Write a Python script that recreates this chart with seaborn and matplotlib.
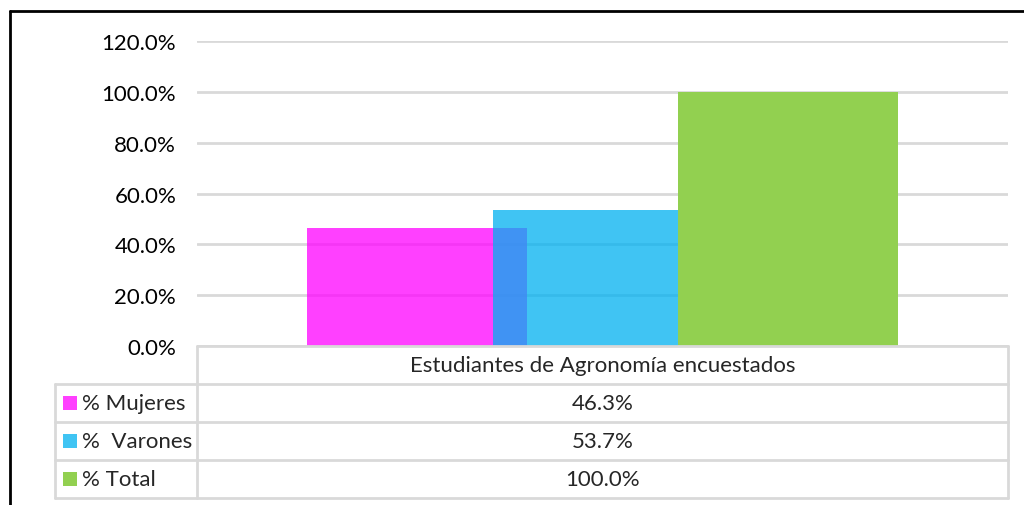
import numpy as np
import pandas as pd
import seaborn as sns
import matplotlib.pyplot as plt
from matplotlib.lines import Line2D
from matplotlib.patches import Rectangle

# data
category = "Estudiantes de Agronomía encuestados"
series = ["% Mujeres", "%  Varones", "% Total"]
values = [0.463, 0.537, 1.000]
value_labels = ["46.3%", "53.7%", "100.0%"]
colors = ["#FF00FF", "#00B0F0", "#92D050"]
alphas = [0.75, 0.75, 1.0]
yticks = [0.0, 0.2, 0.4, 0.6, 0.8, 1.0, 1.2]

df = pd.DataFrame({"cat": [category] * 3, "serie": series, "valor": values})

sns.set_theme(style="white")
plt.rcParams['font.family'] = ['Lato', 'DejaVu Sans']
FS = 16

W, H = 1024, 506
fig = plt.figure(figsize=(W / 100, H / 100), dpi=100)

# plot area in pixels
L, R, T, B = 197, 1008, 42, 347
ax = fig.add_axes([L / W, 1 - B / H, (R - L) / W, (B - T) / H])

sns.barplot(data=df, x="cat", y="valor", hue="serie", palette=colors,
            width=0.687, dodge=True, legend=False, ax=ax, zorder=2,
            linewidth=0, saturation=1)

# Excel style overlap: widen each bar around its centre
bar_w = 0.271
for p, a in zip(ax.patches, alphas):
    c = p.get_x() + p.get_width() / 2
    p.set_width(bar_w)
    p.set_x(c - bar_w / 2)
    p.set_alpha(a)

ax.set_xlim(-0.5, 0.5)
ax.set_ylim(0, 1.2)
ax.set_yticks(yticks)
ax.set_yticklabels([f"{t * 100:.1f}%" for t in yticks], fontsize=FS, color="#000000")
ax.tick_params(axis="y", length=0, pad=15)
ax.set_xticks([])
ax.set_xlabel("")
ax.set_ylabel("")
ax.yaxis.grid(True, color="#D9D9D9", linewidth=2, zorder=0)
ax.set_axisbelow(True)
for s in ax.spines.values():
    s.set_visible(False)

# data table below the chart
grid_c = "#D9D9D9"
lw = 2
rows = [347, 385, 423, 461, 499]
left_col = 55


def px(x, y):
    return x / W, 1 - y / H


def hline(x0, x1, y):
    (a, b), (c, d) = px(x0, y), px(x1, y)
    fig.add_artist(Line2D([a, c], [b, d], color=grid_c, lw=lw))


def vline(x, y0, y1):
    (a, b), (c, d) = px(x, y0), px(x, y1)
    fig.add_artist(Line2D([a, c], [b, d], color=grid_c, lw=lw))


hline(L, R, rows[0])
for y in rows[1:]:
    hline(left_col, R, y)
vline(L, rows[0], rows[-1])
vline(R, rows[0], rows[-1])
vline(left_col, rows[1], rows[-1])

mid = (L + R) / 2
hx, hy = px(mid, (rows[0] + rows[1]) / 2)
fig.text(hx, hy, category, ha="center", va="center", fontsize=FS)

for i, (name, lab, col, a) in enumerate(zip(series, value_labels, colors, alphas)):
    yc = (rows[i + 1] + rows[i + 2]) / 2
    tx, ty = px(mid, yc)
    fig.text(tx, ty, lab, ha="center", va="center", fontsize=FS)
    sx, sy = px(63, yc + 7)
    fig.add_artist(Rectangle((sx, sy), 14 / W, 14 / H, transform=fig.transFigure,
                             facecolor=col, alpha=a, edgecolor="none"))
    nx, ny = px(82, yc)
    fig.text(nx, ny, name, ha="left", va="center", fontsize=FS)

# outer chart frame (clipped by the image edge)
fig.add_artist(Line2D([10 / W, 10 / W], [1 - 12 / H, 0], color="black", lw=2))
fig.add_artist(Line2D([10 / W, 1], [1 - 12 / H, 1 - 12 / H], color="black", lw=2))

fig.savefig("out.png", dpi=100)
